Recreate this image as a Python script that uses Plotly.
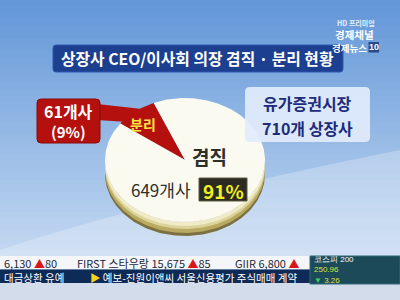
import numpy as np
import plotly.graph_objects as go

# ---- data ----
categories = ["겸직", "분리"]
counts = [649, 61]
percents = [91, 9]
market_name = "유가증권시장"
total_firms = 710
title_text = "상장사 CEO/이사회 의장 겸직 · 분리 현황"

UP = "<span style='color:#d81818'>▲</span>"
ticker_items = [
    (3, f"6,130 {UP}80"),
    (76, f"FIRST 스타우랑 15,675 {UP}85"),
    (234, f"GIIR 6,800 {UP}"),
]
news_items = [
    (3, "대금상환 유예"),
    (89, "<span style='color:#f2d21a'>▶</span> 예보-진원이앤씨 서울신용평가 주식매매 계약"),
]
index_name = "코스피 200"
index_value = "250.96"
index_change = "3.26"

# ---- style ----
W, H = 400, 300
KR = "Noto Sans CJK KR"
slice_colors = {"겸직": "#fbfaf1", "분리": "#b3100e"}

fig = go.Figure()
shapes = []
ann = []


def hex_mix(c1, c2, t):
    a = [int(c1[i:i + 2], 16) for i in (1, 3, 5)]
    b = [int(c2[i:i + 2], 16) for i in (1, 3, 5)]
    return "#%02x%02x%02x" % tuple(round(a[k] + (b[k] - a[k]) * t) for k in range(3))


def rrect(x0, y0, x1, y1, r):
    return (f"M{x0 + r},{y0} L{x1 - r},{y0} Q{x1},{y0} {x1},{y0 + r} "
            f"L{x1},{y1 - r} Q{x1},{y1} {x1 - r},{y1} L{x0 + r},{y1} "
            f"Q{x0},{y1} {x0},{y1 - r} L{x0},{y0 + r} Q{x0},{y0} {x0 + r},{y0} Z")


# background gradient
n = 40
for i in range(n):
    y0 = 256 * i / n
    y1 = 256 * (i + 1) / n + 0.5
    shapes.append(dict(type="rect", x0=0, x1=W, y0=y0, y1=y1, layer="below",
                       line=dict(width=0),
                       fillcolor=hex_mix("#6397d8", "#c3d8f1", i / (n - 1))))
# soft light sweep across lower area
shapes.append(dict(type="path", layer="below", line=dict(width=0),
                   fillcolor="rgba(255,255,255,0.25)",
                   path="M0,250 Q150,200 400,150 L400,256 L0,256 Z"))

# title bar
shapes.append(dict(type="path", path=rrect(53, 45, 343, 72, 3),
                   fillcolor="#1c3f8f", line=dict(color="#2c58b0", width=1)))
ann.append(dict(x=197, y=58.5, text=f"<b>{title_text}</b>", showarrow=False,
                borderpad=0, font=dict(family=KR, size=15.8, color="white")))

# channel logo
ann.append(dict(x=356, y=22.5, text="<b>HD 프리미엄</b>", showarrow=False,
                borderpad=0, font=dict(family=KR, size=7, color="#e8eef8")))
ann.append(dict(x=354, y=34, text="<b>경제채널</b>", showarrow=False,
                borderpad=0, font=dict(family=KR, size=10.5, color="white")))
ann.append(dict(x=368, y=47.5, xanchor="right", text="<b>경제뉴스</b>", showarrow=False,
                borderpad=0, font=dict(family=KR, size=9.5, color="white")))
shapes.append(dict(type="rect", x0=368.5, x1=379, y0=42, y1=52.5,
                   fillcolor="#2a4a8a", line=dict(width=0)))
ann.append(dict(x=373.75, y=47.2, text="<b>10</b>", showarrow=False, borderpad=0,
                font=dict(family="Liberation Sans", size=9, color="white")))

# ---- pie (tilted 3D disc) ----
cx, cy, rx, ry, depth = 185, 160, 80, 62, 14


def ell(theta_deg, dy=0.0):
    t = np.radians(theta_deg)
    return cx + rx * np.cos(t), cy - ry * np.sin(t) + dy


# rim layers
th = np.linspace(180, 360, 120)
for d, col in [(depth, "#7d7040"), (depth - 3, "#b9aa62"), (depth - 7, "#dcd39a"),
               (depth - 10, "#efebc8")]:
    top = [ell(t) for t in th]
    bot = [ell(t, d) for t in th[::-1]]
    pts = top + bot
    fig.add_trace(go.Scatter(x=[p[0] for p in pts], y=[p[1] for p in pts],
                             fill="toself", fillcolor=col, mode="lines",
                             line=dict(width=0), hoverinfo="skip",
                             showlegend=False))

# slices: 분리 first, counter-clockwise from start angle
total = sum(counts)
start = 113.0
order = [categories.index("분리"), categories.index("겸직")]
for idx in order:
    span = 360.0 * counts[idx] / total
    ts = np.linspace(start, start + span, max(3, int(span)))
    pts = [(cx, cy)] + [ell(t) for t in ts] + [(cx, cy)]
    fig.add_trace(go.Scatter(x=[p[0] for p in pts], y=[p[1] for p in pts],
                             fill="toself", fillcolor=slice_colors[categories[idx]],
                             mode="lines", line=dict(width=0),
                             hoverinfo="skip", showlegend=False,
                             name=categories[idx]))
    start += span

# red callout for 분리
i_sep = categories.index("분리")
shapes.append(dict(type="path", path="M97,104 L142,109 L128,122 L97,120 Z",
                   fillcolor=slice_colors["분리"], line=dict(width=0)))
shapes.append(dict(type="path", path=rrect(37, 99, 100, 143, 4),
                   fillcolor=slice_colors["분리"], line=dict(color="#8a0a08", width=1)))
ann.append(dict(x=68.5, y=111, text=f"<b>{counts[i_sep]}개사</b>", showarrow=False,
                borderpad=0, font=dict(family=KR, size=16, color="white")))
ann.append(dict(x=68.5, y=131, text=f"<b>({percents[i_sep]}%)</b>", showarrow=False,
                borderpad=0, font=dict(family=KR, size=15, color="white")))
ann.append(dict(x=143, y=123.5, text=f"<b>{categories[i_sep]}</b>", showarrow=False,
                borderpad=0, font=dict(family=KR, size=14, color="#ffe640")))

# 겸직 labels
i_con = categories.index("겸직")
ann.append(dict(x=209, y=156, text=f"<b>{categories[i_con]}</b>", showarrow=False,
                borderpad=0, font=dict(family=KR, size=19, color="#2e2e2a")))
ann.append(dict(x=161, y=189.5, text=f"{counts[i_con]}개사", showarrow=False,
                borderpad=0, font=dict(family=KR, size=17, color="#2e2e2a")))
shapes.append(dict(type="rect", x0=199, x1=247, y0=178, y1=201,
                   fillcolor="#2b2b22", line=dict(color="#5a5a40", width=1)))
ann.append(dict(x=223, y=190, text=f"<b>{percents[i_con]}%</b>", showarrow=False,
                borderpad=0, font=dict(family=KR, size=19, color="#f4f020")))

# market info box
shapes.append(dict(type="path", path=rrect(245, 87, 370, 142, 5),
                   fillcolor="rgba(226,236,252,0.92)", line=dict(width=0)))
ann.append(dict(x=307, y=102.5, text=f"<b>{market_name}</b>", showarrow=False,
                borderpad=0, font=dict(family=KR, size=16, color="#1e2c7c")))
ann.append(dict(x=307, y=128, text=f"<b>{total_firms}개 상장사</b>", showarrow=False,
                borderpad=0, font=dict(family=KR, size=16, color="#1e2c7c")))

# ---- ticker strips ----
shapes.append(dict(type="rect", x0=0, x1=W, y0=256, y1=269.5,
                   fillcolor="#f4f6fa", line=dict(width=0)))
shapes.append(dict(type="rect", x0=0, x1=W, y0=269.5, y1=283,
                   fillcolor="#0e2b57", line=dict(width=0)))
shapes.append(dict(type="rect", x0=0, x1=W, y0=283, y1=H,
                   fillcolor="#d3dcea", line=dict(width=0)))
for x, txt in ticker_items:
    ann.append(dict(x=x, y=262.5, xanchor="left", text=txt, showarrow=False,
                    borderpad=0, font=dict(family=KR, size=11, color="#1e2a3a")))
for x, txt in news_items:
    ann.append(dict(x=x, y=277, xanchor="left", text=txt, showarrow=False,
                    borderpad=0, font=dict(family=KR, size=10.5, color="white")))

# index box
shapes.append(dict(type="rect", x0=310, x1=W, y0=256, y1=284,
                   fillcolor="#1c4a58", line=dict(color="#2f6a78", width=1)))
ann.append(dict(x=313, y=270, xanchor="left", yanchor="middle", showarrow=False,
                borderpad=0, align="left",
                text=(f"<span style='color:white'>{index_name}</span><br>"
                      f"{index_value}<br>"
                      f"<span style='color:#3ccf6a'>▼</span> {index_change}"),
                font=dict(family="Liberation Sans", size=8, color="#d6e23c")))

fig.update_layout(
    width=W, height=H,
    margin=dict(l=0, r=0, t=0, b=0),
    paper_bgcolor="#8fb5e6", plot_bgcolor="rgba(0,0,0,0)",
    xaxis=dict(range=[0, W], visible=False, fixedrange=True),
    yaxis=dict(range=[H, 0], visible=False, fixedrange=True),
    shapes=shapes, annotations=ann, showlegend=False,
)

fig.write_html("out.html")
